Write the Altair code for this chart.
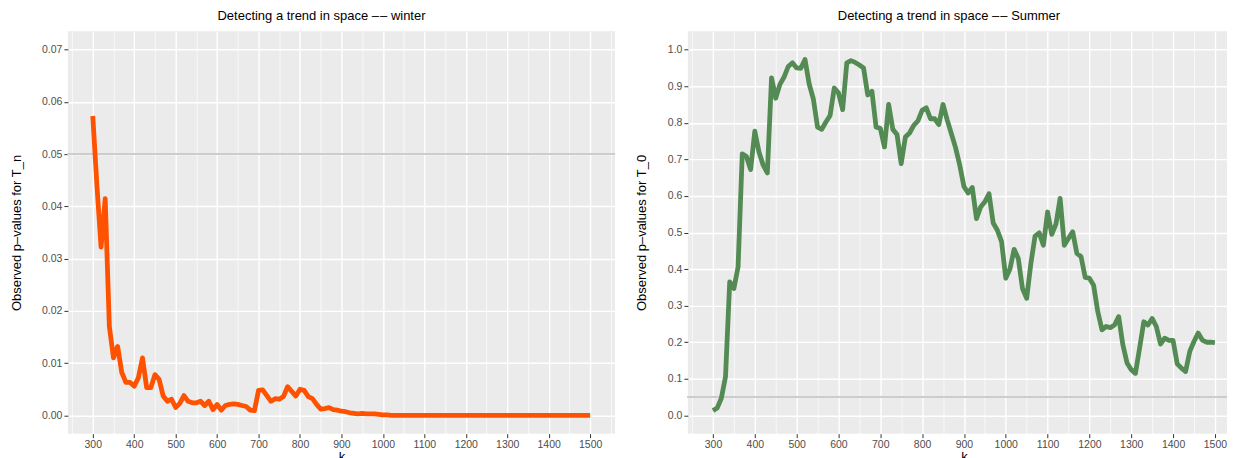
import altair as alt
import pandas as pd

# ---- data ----
k_values = list(range(300, 1510, 10))

winter_p = [
    0.0573, 0.0440, 0.0322, 0.0415, 0.0170, 0.0110, 0.0132, 0.0082, 0.0063, 0.0063,
    0.0056, 0.0072, 0.0110, 0.0053, 0.0053, 0.0078, 0.0069, 0.0037, 0.0027, 0.0031,
    0.0015, 0.0023, 0.0038, 0.0027, 0.0024, 0.0024, 0.0027, 0.0019, 0.0027, 0.0011,
    0.0021, 0.0010, 0.0019, 0.0021, 0.0022, 0.0021, 0.0019, 0.0017, 0.0010, 0.0009,
    0.0048, 0.0049, 0.0038, 0.0027, 0.0032, 0.0031, 0.0036, 0.0055, 0.0046, 0.0037,
    0.0050, 0.0048, 0.0036, 0.0032, 0.0021, 0.0012, 0.0013, 0.0015, 0.0011, 0.0010,
    0.0008, 0.0007, 0.0005, 0.0004, 0.0003, 0.0004, 0.0003, 0.0003, 0.0003, 0.0002,
    0.0001, 0.0001, 0.0, 0.0, 0.0, 0.0, 0.0, 0.0, 0.0, 0.0,
    0.0, 0.0, 0.0, 0.0, 0.0, 0.0, 0.0, 0.0, 0.0, 0.0,
    0.0, 0.0, 0.0, 0.0, 0.0, 0.0, 0.0, 0.0, 0.0, 0.0,
    0.0, 0.0, 0.0, 0.0, 0.0, 0.0, 0.0, 0.0, 0.0, 0.0,
    0.0, 0.0, 0.0, 0.0, 0.0, 0.0, 0.0, 0.0, 0.0, 0.0,
    0.0,
]

summer_p = [
    0.013, 0.020, 0.047, 0.106, 0.365, 0.347, 0.406, 0.715, 0.708, 0.672,
    0.777, 0.720, 0.684, 0.663, 0.923, 0.867, 0.905, 0.925, 0.954, 0.964,
    0.950, 0.949, 0.973, 0.906, 0.865, 0.788, 0.782, 0.802, 0.820, 0.895,
    0.882, 0.836, 0.964, 0.970, 0.965, 0.958, 0.950, 0.876, 0.886, 0.788,
    0.785, 0.734, 0.850, 0.782, 0.768, 0.688, 0.761, 0.772, 0.793, 0.805,
    0.834, 0.841, 0.811, 0.811, 0.795, 0.850, 0.808, 0.770, 0.732, 0.684,
    0.626, 0.608, 0.623, 0.538, 0.570, 0.584, 0.606, 0.526, 0.506, 0.475,
    0.375, 0.400, 0.454, 0.429, 0.347, 0.320, 0.415, 0.490, 0.499, 0.465,
    0.556, 0.495, 0.523, 0.593, 0.465, 0.484, 0.502, 0.443, 0.434, 0.377,
    0.375, 0.356, 0.284, 0.234, 0.243, 0.240, 0.247, 0.270, 0.193, 0.143,
    0.125, 0.115, 0.184, 0.256, 0.247, 0.265, 0.243, 0.195, 0.211, 0.205,
    0.205, 0.141, 0.129, 0.120, 0.175, 0.202, 0.225, 0.206, 0.200, 0.200,
    0.199,
]

threshold = 0.05

winter_df = pd.DataFrame({"k": k_values, "p": winter_p})
summer_df = pd.DataFrame({"k": k_values, "p": summer_p})

# ---- styling ----
FONT = "Liberation Sans"
LABEL_COLOR = "#4D4D4D"
TICK_COLOR = "#333333"
MAJOR_W = 1.4
MINOR_W = 0.7

x_ticks = [250 + 50 * i for i in range(27)]          # 250 .. 1550
y_ticks_w = [round(0.005 * i, 3) for i in range(15)]  # 0 .. 0.07
y_ticks_s = [round(0.05 * i, 2) for i in range(21)]   # 0 .. 1.0

x_minor = "datum.value % 100 != 0"
yw_minor = "round(datum.value * 1000) % 10 != 0"
ys_minor = "round(datum.value * 100) % 10 != 0"


def make_axis(values, minor_test, title, fmt, title_padding):
    return alt.Axis(
        values=values,
        format=fmt,
        labelExpr=f"({minor_test}) ? '' : datum.label",
        title=title,
        titleFont=FONT,
        titleFontSize=13,
        titleFontWeight="normal",
        titleColor="black",
        titlePadding=title_padding,
        labelFont=FONT,
        labelFontSize=10.5,
        labelColor=LABEL_COLOR,
        labelPadding=2,
        labelOverlap=False,
        labelFlush=False,
        tickColor=TICK_COLOR,
        tickSize=4,
        tickWidth=1,
        tickOpacity={"condition": {"test": minor_test, "value": 0}, "value": 1},
        domain=False,
        grid=True,
        gridColor="white",
        gridOpacity=1,
        gridWidth={"condition": {"test": minor_test, "value": MINOR_W}, "value": MAJOR_W},
    )


def panel(df, color, y_domain, y_ticks, y_minor, y_fmt, y_title, title, width, title_dx):
    x = alt.X(
        "k:Q",
        scale=alt.Scale(domain=[240, 1560], nice=False, zero=False),
        axis=make_axis(x_ticks, x_minor, "k", "d", 0.5),
    )
    y = alt.Y(
        "p:Q",
        scale=alt.Scale(domain=y_domain, nice=False, zero=False),
        axis=make_axis(y_ticks, y_minor, y_title, y_fmt, 18.5),
    )
    rule = alt.Chart(df).mark_rule(color="#CCCCCC", strokeWidth=1.2).encode(
        y=alt.datum(threshold, scale=alt.Scale(domain=y_domain, nice=False, zero=False))
    )
    line = alt.Chart(df).mark_line(
        color=color, strokeWidth=4.8, strokeJoin="round", strokeCap="butt"
    ).encode(x=x, y=y)
    return alt.layer(rule, line).properties(
        width=width,
        height=403,
        view=alt.ViewBackground(fill="#EBEBEB", stroke=None),
        title=alt.TitleParams(
            text=title,
            font=FONT,
            fontSize=13,
            fontWeight="normal",
            color="black",
            anchor="middle",
            frame="group",
            offset=8,
            dx=title_dx,
        ),
    )


DASHES = "\u2013\u200a\u2013"

left = panel(
    winter_df, "#FF5200", [-0.0035, 0.0735], y_ticks_w, yw_minor, ".2f",
    "Observed p\u2013values for T_n", f"Detecting a trend in space {DASHES} winter", 548, -20,
)
right = panel(
    summer_df, "#548B54", [-0.05, 1.05], y_ticks_s, ys_minor, ".1f",
    "Observed p\u2013values for T_0", f"Detecting a trend in space {DASHES} Summer", 553, -15,
)

# the right edge of the last panel is clipped by the picture, as in the reference
chart = (
    alt.hconcat(left, right, spacing=19)
    .properties(padding={"left": 2, "top": 2, "right": -14, "bottom": 0}, background="white")
    .configure_view(fill="#EBEBEB", stroke=None)
)

chart.save("out.html", embed_options={"renderer": "svg", "actions": False})
